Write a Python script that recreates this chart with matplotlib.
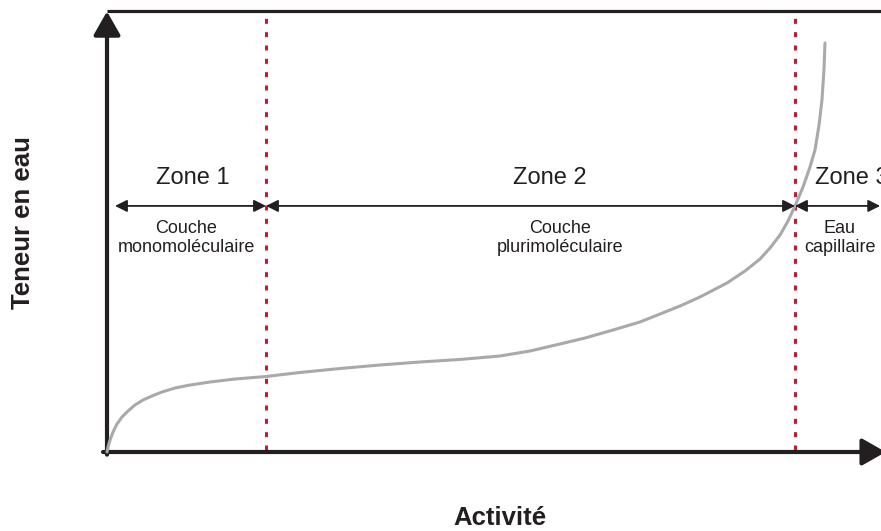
import matplotlib
matplotlib.use('Agg')
import matplotlib.pyplot as plt

plt.rcParams['font.family'] = ['Liberation Sans', 'DejaVu Sans']
plt.rcParams['lines.scale_dashes'] = False

# isotherme de sorption (activite, teneur en eau)
activite = [0.0, 0.0013, 0.0038, 0.0076, 0.0126, 0.0189, 0.0265, 0.0353, 0.0454,
            0.0567, 0.0694, 0.0858, 0.1047, 0.1299, 0.1614, 0.2005, 0.2434,
            0.2938, 0.3443, 0.3947, 0.4451, 0.4956, 0.5334, 0.5712, 0.6028,
            0.6381, 0.6721, 0.6974, 0.7226, 0.7478, 0.7818, 0.8045, 0.8235,
            0.8361, 0.8487, 0.8588, 0.8676, 0.8777, 0.8865, 0.8928, 0.8979,
            0.9016, 0.9041, 0.9054]
teneur = [0.0, 0.0113, 0.0272, 0.0454, 0.0635, 0.0794, 0.0930, 0.1066, 0.1179,
          0.1270, 0.1361, 0.1451, 0.1519, 0.1587, 0.1655, 0.1712, 0.1803,
          0.1893, 0.1973, 0.2041, 0.2098, 0.2177, 0.2290, 0.2449, 0.2585,
          0.2766, 0.2948, 0.3129, 0.3311, 0.3515, 0.3832, 0.4104, 0.4376,
          0.4626, 0.4921, 0.5238, 0.5578, 0.6009, 0.6463, 0.6848, 0.7415,
          0.7982, 0.8662, 0.9274]

limites = [0.2005, 0.8676]          # limites des zones
zones = ['Zone 1', 'Zone 2', 'Zone 3']
sous_titres = ['Couche\nmonomoléculaire', 'Couche\nplurimoléculaire', 'Eau\ncapillaire']

axe_col = '#231f20'
rouge = '#be1e2d'
gris = '#a7a9ac'

fig = plt.figure(figsize=(8.81, 5.31), dpi=100)
ax = fig.add_axes([107/881, (531-452)/531, 793/881, 441/531])
ax.set_xlim(0, 1)
ax.set_ylim(0, 1)
ax.axis('off')

# cadre / axes avec fleches
ax.plot([0, 1.05], [1, 1], color=axe_col, lw=2.3, clip_on=False, solid_capstyle='butt')
ax.annotate('', xy=(0, 0.999), xytext=(0, -0.006),
            arrowprops=dict(arrowstyle='-|>,head_length=0.72,head_width=0.41',
                            mutation_scale=20, color=axe_col, lw=3,
                            shrinkA=0, shrinkB=0), annotation_clip=False)
ax.annotate('', xy=(0.982, 0), xytext=(-0.005, 0),
            arrowprops=dict(arrowstyle='-|>,head_length=0.72,head_width=0.41',
                            mutation_scale=20, color=axe_col, lw=3,
                            shrinkA=0, shrinkB=0), annotation_clip=False)

# courbe
ax.plot(activite, teneur, color=gris, lw=2.2, clip_on=False, zorder=3,
        solid_joinstyle='round', solid_capstyle='round')

# limites pointillees
for x in limites:
    ax.plot([x, x], [0.005, 0.986], color=rouge, lw=2.2, dashes=(3.6, 6), zorder=2)

# fleches des zones
y_fl = 0.558
bornes = [0.0101] + limites + [0.975]
for i in range(3):
    ax.annotate('', xy=(bornes[i+1], y_fl), xytext=(bornes[i], y_fl),
                arrowprops=dict(arrowstyle='<|-|>,head_length=0.4,head_width=0.2',
                                mutation_scale=18, color=axe_col, lw=1.3,
                                shrinkA=0, shrinkB=0), annotation_clip=False, zorder=4)

pos_zone = [0.1084, 0.5586, 0.8928]
pos_sous = [0.1, 0.571, 0.924]
ha_zone = ['center', 'center', 'left']
for i in range(3):
    ax.text(pos_zone[i], 0.621, zones[i], fontsize=17, ha=ha_zone[i], va='center',
            color=axe_col, clip_on=False)
    ax.text(pos_sous[i], 0.485, sous_titres[i], fontsize=13, ha='center', va='center',
            color=axe_col, linespacing=1.1, clip_on=False)

fig.text(23/881, (531-223)/531, 'Teneur en eau', rotation=90, fontsize=18.5,
         fontweight='bold', ha='center', va='center', color=axe_col)
fig.text(500/881, (531-518)/531, 'Activité', fontsize=18.5, fontweight='bold',
         ha='center', va='center', color=axe_col)

fig.savefig('out.png', dpi=100)
